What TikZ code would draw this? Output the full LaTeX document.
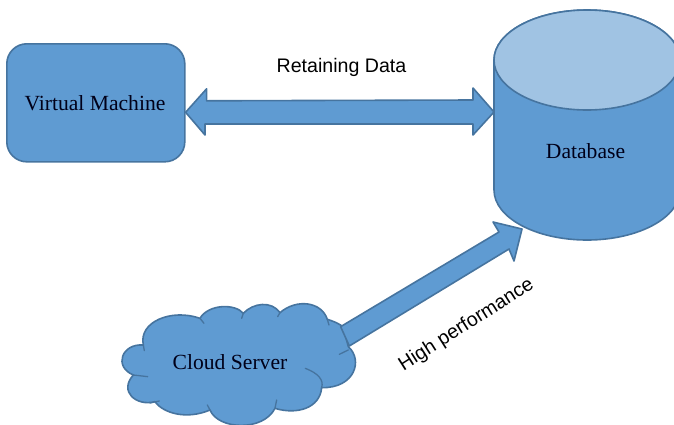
\documentclass[tikz,border=0pt]{standalone}
\usepackage{fontspec}
\setmainfont{Liberation Serif}
\newfontfamily\labelfont{Liberation Sans}
\definecolor{bluefill}{HTML}{5F9BD2}
\definecolor{blueline}{HTML}{46749F}
\definecolor{bluetop}{HTML}{A0C3E3}
\tikzset{
  shapestyle/.style={fill=bluefill,draw=blueline,line width=1.6pt,line join=round},
  serifname/.style={inner sep=0pt,font=\fontsize{21.6}{25}\selectfont,text=black!90!blue},
  sanslabel/.style={inner sep=0pt,font=\labelfont\fontsize{19.6}{23}\selectfont,text=black}
}
\begin{document}
\begin{tikzpicture}[x=1pt,y=-1pt]
\useasboundingbox (0,0) rectangle (674,424);
\clip (0,0) rectangle (674,424);
% Database cylinder
\draw[shapestyle] (494,60) -- (494,190) arc[start angle=180,end angle=360,x radius=93,y radius=-50] -- (680,60) arc[start angle=0,end angle=180,x radius=93,y radius=-50] -- cycle;
\draw[shapestyle,fill=bluetop] (587,60) ellipse[x radius=93,y radius=50];
\node[serifname] (db) at (585.5,151) {Database};
\coordinate (dbleft) at (494,112);
% Virtual machine
\node[shapestyle,rounded corners=20pt,minimum width=178pt,minimum height=118pt,inner sep=0pt,anchor=north west] (vm) at (6,43) {};
\node[serifname] (vmtext) at (95,103) {Virtual Machine};
% Double arrow
\draw[shapestyle] (vm.east) ++(0,9.5) -- ++(21,-23.5) -- ++(0,12) -- (473,100) -- (473,88) -- (dbleft) -- (473,135) -- (473,124) -- (205,124) -- (205,135) -- cycle;
\node[sanslabel] (retain) at (341.5,67) {Retaining Data};
% Cloud
\begin{scope}[shift={(100,210)},x=0.3333pt,y=-0.3333pt]
\coordinate (cl1) at (130,405);
\coordinate (cl2) at (300,325);
\coordinate (cl3) at (430,310);
\coordinate (cl4) at (540,308);
\coordinate (cl5) at (682,328);
\coordinate (cl6) at (745,410);
\coordinate (cl7) at (665,533);
\coordinate (cl8) at (525,595);
\coordinate (cl9) at (330,600);
\coordinate (cl10) at (165,575);
\coordinate (cl11) at (100,495);
\draw[shapestyle]
 (cl1) .. controls (115,335) and (215,295) .. (cl2)
 .. controls (325,282) and (405,280) .. (cl3)
 .. controls (460,278) and (515,272) .. (cl4)
 .. controls (590,265) and (665,275) .. (cl5)
 .. controls (705,335) and (725,345) .. (730,352)
 -- (cl6)
 .. controls (790,450) and (765,535) .. (cl7)
 .. controls (660,595) and (590,615) .. (cl8)
 .. controls (490,665) and (355,660) .. (cl9)
 .. controls (260,630) and (190,610) .. (cl10)
 .. controls (110,590) and (55,545) .. (cl11)
 .. controls (40,470) and (65,400) .. (cl1) -- cycle;
\draw[blueline,line width=1.3pt,line cap=round]
 (cl1) -- (133,422) (cl2) -- (312,340) (cl3) -- (425,325) (cl4) -- (533,320)
 (cl5) -- (687,345) (745,420) -- (718,433)
 (cl7) .. controls (672,510) and (655,490) .. (616,475)
 (cl8) -- (530,570) (cl9) -- (322,585) (178,573) -- (150,579)
 (cl11) -- (143,500);
\coordinate (cloudtop) at (722,350);
\coordinate (cloudbot) at (748,408);
\end{scope}
\node[serifname] (cloud) at (230,362) {Cloud Server};
% High performance arrow
\coordinate (hptip) at (522,229);
\draw[shapestyle] (cloudtop) -- (499,232) -- (493,222) -- (hptip) -- (514,261) -- (509,249) -- (cloudbot) -- cycle;
\node[sanslabel,rotate=32.5] (hp) at (466.5,325) {High performance};
\end{tikzpicture}
\end{document}
